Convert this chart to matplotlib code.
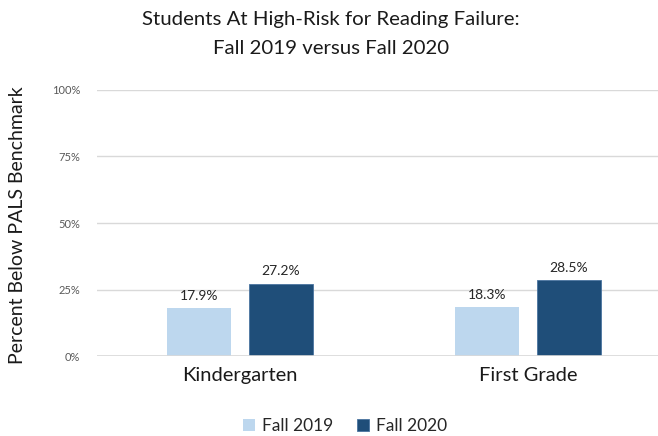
import matplotlib
matplotlib.use("Agg")
import matplotlib.pyplot as plt
import numpy as np

categories = ["Kindergarten", "First Grade"]
series_names = ["Fall 2019", "Fall 2020"]
fall2019 = [17.9, 18.3]
fall2020 = [27.2, 28.5]
yticks = [0, 25, 50, 75, 100]

plt.rcParams['font.family'] = ['Lato', 'DejaVu Sans']

fig = plt.figure(figsize=(6.58, 4.36), dpi=100)
ax = fig.add_axes([97/658, 80/436, 1 - 97/658, 266/436])

x = np.arange(len(categories))
w = 0.222
off = 0.142
c1 = "#BDD7EE"
c2 = "#1F4E79"
b1 = ax.bar(x - off, fall2019, w, color=c1, label=series_names[0], zorder=3)
b2 = ax.bar(x + off, fall2020, w, color=c2, edgecolor="#4A74A0", linewidth=0.6, label=series_names[1], zorder=3)

for rects, vals in ((b1, fall2019), (b2, fall2020)):
    for r, v in zip(rects, vals):
        ax.text(r.get_x() + r.get_width()/2, v + 2.5, f"{v:.1f}%", ha="center", va="bottom",
                fontsize=10, color="#262626")

ax.set_xlim(-0.4965, 1.451)
ax.set_ylim(0, 100)
ax.set_yticks(yticks)
ax.set_yticklabels([f"{t}%" for t in yticks], fontsize=8, color="#595959")
ax.yaxis.grid(True, color="#D9D9D9", linewidth=1, zorder=0)
ax.axhline(0, color="#D9D9D9", linewidth=1.2, zorder=4)
ax.tick_params(axis="y", length=0, pad=12)
ax.tick_params(axis="x", length=0, pad=8)
ax.set_xticks(x)
ax.set_xticklabels(categories, fontsize=14.5, color="#1a1a1a")
for s in ax.spines.values():
    s.set_visible(False)

fig.text(331/658, 1 - 20/436, "Students At High-Risk for Reading Failure:", ha="center", va="center",
         fontsize=14.7, color="#1a1a1a")
fig.text(331/658, 1 - 48/436, "Fall 2019 versus Fall 2020", ha="center", va="center",
         fontsize=14.7, color="#1a1a1a")
fig.text(18/658, 1 - 225/436, "Percent Below PALS Benchmark", rotation=90, ha="center", va="center",
         fontsize=14, color="#1a1a1a")

leg = fig.legend(handles=[b1, b2], labels=series_names, loc="center", bbox_to_anchor=(345/658, 1 - 426/436),
                 ncol=2, frameon=False, fontsize=12.5, handlelength=0.7, handleheight=0.7,
                 handletextpad=0.4, columnspacing=1.4)
for t in leg.get_texts():
    t.set_color("#262626")

fig.savefig("out.png", dpi=100)
